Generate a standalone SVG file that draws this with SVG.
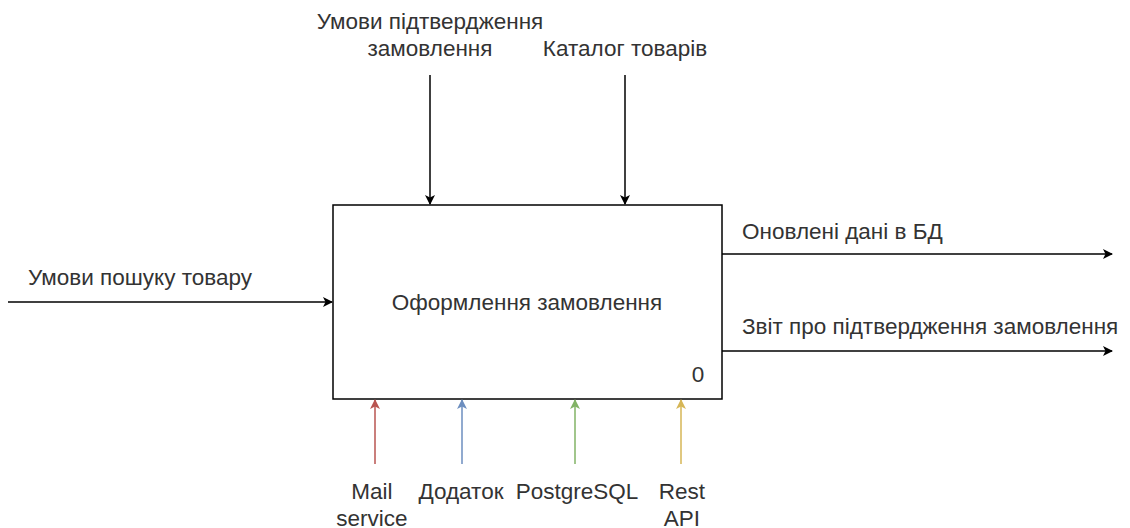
<svg xmlns="http://www.w3.org/2000/svg" width="1130" height="528" viewBox="0 0 1130 528">
<defs>
<style>
text{font-family:"Liberation Sans",Arial,sans-serif;font-size:22.5px;fill:#333333}
.c{text-anchor:middle}
.ln{fill:none;stroke-width:1.5}
</style>
<marker id="ak" markerWidth="10" markerHeight="10" refX="9" refY="5" orient="auto" markerUnits="userSpaceOnUse"><path d="M0,0 L10,5 L0,10 L2.5,5 Z" fill="#000"/></marker>
<marker id="ar" markerWidth="10" markerHeight="10" refX="9" refY="5" orient="auto" markerUnits="userSpaceOnUse"><path d="M0,0 L10,5 L0,10 L2.5,5 Z" fill="#b85450"/></marker>
<marker id="ab" markerWidth="10" markerHeight="10" refX="9" refY="5" orient="auto" markerUnits="userSpaceOnUse"><path d="M0,0 L10,5 L0,10 L2.5,5 Z" fill="#6c8ebf"/></marker>
<marker id="ag" markerWidth="10" markerHeight="10" refX="9" refY="5" orient="auto" markerUnits="userSpaceOnUse"><path d="M0,0 L10,5 L0,10 L2.5,5 Z" fill="#82b366"/></marker>
<marker id="ay" markerWidth="10" markerHeight="10" refX="9" refY="5" orient="auto" markerUnits="userSpaceOnUse"><path d="M0,0 L10,5 L0,10 L2.5,5 Z" fill="#d6b656"/></marker>
</defs>
<rect width="1130" height="528" fill="#fff"/>
<g id="node-main">
<rect x="333" y="205" width="389" height="194" fill="#fff" stroke="#000" stroke-width="1.5"/>
<text class="c" x="527" y="310">Оформлення замовлення</text>
<text class="c" x="698" y="382">0</text>
</g>
<g id="connectors">
<line class="ln" x1="430" y1="75" x2="430" y2="204" stroke="#000" marker-end="url(#ak)"/>
<line class="ln" x1="625" y1="75" x2="625" y2="204" stroke="#000" marker-end="url(#ak)"/>
<line class="ln" x1="8" y1="302" x2="332" y2="302" stroke="#000" marker-end="url(#ak)"/>
<line class="ln" x1="722" y1="254" x2="1112" y2="254" stroke="#000" marker-end="url(#ak)"/>
<line class="ln" x1="722" y1="351" x2="1112" y2="351" stroke="#000" marker-end="url(#ak)"/>
<line class="ln" x1="375" y1="464" x2="375" y2="400" stroke="#b85450" marker-end="url(#ar)"/>
<line class="ln" x1="462" y1="464" x2="462" y2="400" stroke="#6c8ebf" marker-end="url(#ab)"/>
<line class="ln" x1="575" y1="464" x2="575" y2="400" stroke="#82b366" marker-end="url(#ag)"/>
<line class="ln" x1="681" y1="464" x2="681" y2="400" stroke="#d6b656" marker-end="url(#ay)"/>
</g>
<g id="labels">
<text class="c" x="430" y="29">Умови підтвердження</text>
<text class="c" x="430" y="56">замовлення</text>
<text class="c" x="625" y="56">Каталог товарів</text>
<text x="28" y="285">Умови пошуку товару</text>
<text x="742" y="239">Оновлені дані в БД</text>
<text x="742" y="334">Звіт про підтвердження замовлення</text>
<text class="c" x="372" y="499">Mail</text>
<text class="c" x="372" y="526">service</text>
<text class="c" x="461" y="499">Додаток</text>
<text class="c" x="577" y="499">PostgreSQL</text>
<text class="c" x="682" y="499">Rest</text>
<text class="c" x="682" y="526">API</text>
</g>
</svg>
